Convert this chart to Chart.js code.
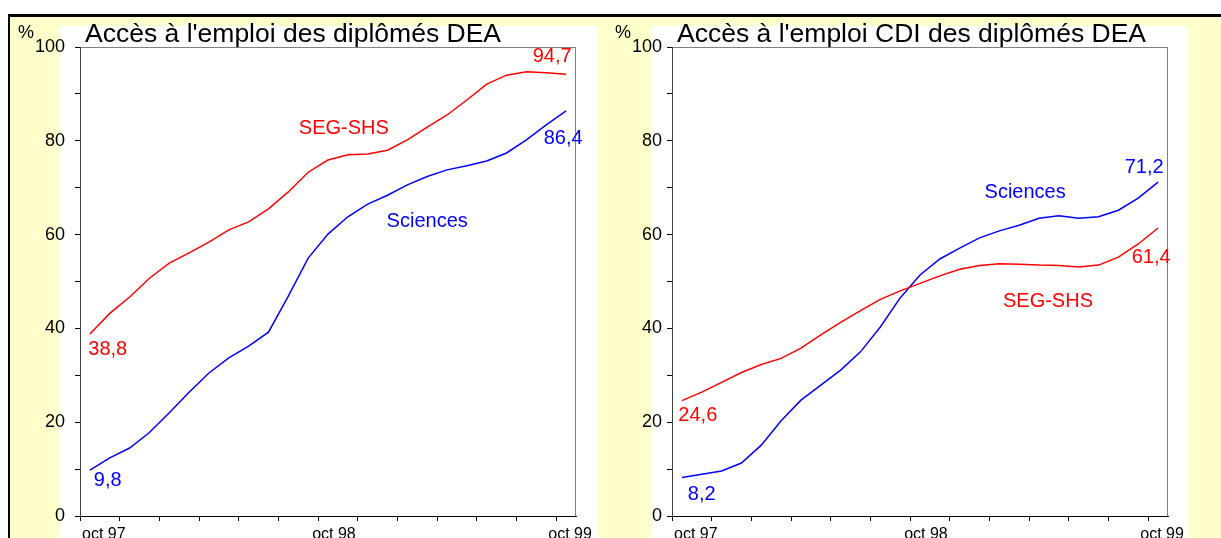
<!DOCTYPE html>
<html>
<head>
<meta charset="utf-8">
<script src="https://cdn.jsdelivr.net/npm/chart.js@4.4.0/dist/chart.umd.min.js"></script>
<style>
  body { margin: 0; background: #fff; width: 1221px; height: 538px; overflow: hidden; position: relative; }
  #frame { position: absolute; left: 8px; top: 14px; width: 1211px; height: 521px; background: #ffffcc; border-top: 3px solid #000; border-left: 2px solid #000; }
  .panel { position: absolute; top: 26px; height: 512px; background: #fff; }
  canvas { position: absolute; top: 0; }
</style>
</head>
<body>
<div id="frame"></div>
<div class="panel" style="left:60px; width:537px;"></div>
<div class="panel" style="left:652px; width:536px;"></div>
<canvas id="chart-emploi" width="600" height="538" style="left:0"></canvas>
<canvas id="chart-cdi" width="621" height="538" style="left:600px"></canvas>
<script>
// month index, 0 = oct 97 ... 24 = oct 99
const months = [0, 1, 2, 3, 4, 5, 6, 7, 8, 9, 10, 11, 12, 13, 14, 15, 16, 17, 18, 19, 20, 21, 22, 23, 24];

const xTickLabels = ["oct 97", "oct 98", "oct 99"];
const xTickLabelPos = [0.7, 12.3, 24.2];

// Accès à l'emploi (%)
const emploiSEG = [38.8, 43.2, 46.7, 50.7, 53.9, 56.1, 58.4, 61.0, 62.7, 65.5, 69.1, 73.3, 75.9,
                   77.0, 77.2, 78.0, 80.2, 82.9, 85.5, 88.7, 92.1, 94.0, 94.7, 94.5, 94.2];
const emploiSciences = [9.8, 12.4, 14.5, 17.8, 22.0, 26.4, 30.5, 33.7, 36.2, 39.2, 46.9, 55.0, 60.1,
                        63.8, 66.5, 68.4, 70.6, 72.4, 73.8, 74.7, 75.7, 77.4, 80.2, 83.4, 86.4];

// Accès à l'emploi CDI (%)
const cdiSEG = [24.6, 26.4, 28.5, 30.6, 32.3, 33.6, 35.8, 38.6, 41.3, 43.8, 46.2, 48.0, 49.6,
                51.2, 52.6, 53.4, 53.8, 53.7, 53.5, 53.4, 53.1, 53.5, 55.2, 58.0, 61.4];
const cdiSciences = [8.2, 8.9, 9.6, 11.3, 15.1, 20.3, 24.7, 27.9, 31.1, 35.0, 40.3, 46.5, 51.4,
                     54.8, 57.1, 59.3, 60.8, 62.0, 63.5, 64.0, 63.5, 63.8, 65.2, 67.8, 71.2];

const RED = "#ff0000";
const BLUE = "#0000ff";
const FONT = "'Liberation Sans', Arial, sans-serif";

// text written inside the plot: [text, x (month), y (%), colour]
const emploiNotes = [
    ["SEG-SHS", 12.8, 82.7, RED],
    ["Sciences", 17.0, 62.9, BLUE],
    ["38,8", 0.9, 35.6, RED],
    ["9,8", 0.9, 7.5, BLUE],
    ["94,7", 23.3, 97.9, RED],
    ["86,4", 23.85, 80.4, BLUE]
];
const cdiNotes = [
    ["Sciences", 17.3, 68.9, BLUE],
    ["71,2", 23.3, 74.4, BLUE],
    ["SEG-SHS", 18.45, 45.8, RED],
    ["61,4", 23.65, 55.2, RED],
    ["24,6", 0.8, 21.5, RED],
    ["8,2", 1.0, 4.5, BLUE]
];

const panelDecor = {
    id: "panelDecor",
    beforeDraw(chart, args, opts){
        /* grey frame round the plot area (axes are drawn over the left and bottom sides) */
        const {ctx, chartArea: a} = chart;
        ctx.save();
        ctx.strokeStyle = "#808080";
        ctx.lineWidth = 1;
        ctx.strokeRect(a.left + 0.5, a.top + 0.5, a.right - a.left - 1, a.bottom - a.top);
        ctx.restore();
    },
    afterDatasetsDraw(chart, args, opts){
        const {ctx, chartArea: a} = chart;
        const xs = chart.scales.x, ys = chart.scales.y;
        ctx.save();
        ctx.font = "20px " + FONT;
        ctx.textAlign = "center";
        ctx.textBaseline = "middle";
        for(const [text, x, y, color] of opts.notes){
            ctx.fillStyle = color;
            ctx.fillText(text, xs.getPixelForValue(x), ys.getPixelForValue(y));
        }

        // title and unit
        ctx.fillStyle = "#000";
        ctx.textAlign = "left";
        ctx.textBaseline = "alphabetic";
        ctx.font = "26.5px " + FONT;
        ctx.fillText(opts.title, a.left + 5, a.top - 5);
        ctx.font = "18px " + FONT;
        ctx.fillText("%", a.left + opts.percentX, a.top - 9);
        ctx.restore();
    }
};

function drawPanel(canvasId, title, seg, sciences, notes, yWidth, rightPad, labelPad, percentX){
    const ctx = document.getElementById(canvasId).getContext("2d");

    new Chart(ctx, {
        type: "line",
        data: {
            datasets: [{
                label: "SEG-SHS",
                data: months.map((m, i) => ({x: m, y: seg[i]})),
                borderColor: RED,
                borderWidth: 1.5,
                pointRadius: 0,
                tension: 0
            },
            {
                label: "Sciences",
                data: months.map((m, i) => ({x: m, y: sciences[i]})),
                borderColor: BLUE,
                borderWidth: 1.5,
                pointRadius: 0,
                tension: 0
            }]
        },
        options: {
            responsive: false,
            animation: false,
            layout: { padding: { left: 0, top: 47, right: rightPad, bottom: 0 } },
            plugins: {
                legend: { display: false },
                tooltip: { enabled: false },
                panelDecor: { notes: notes, title: title, percentX: percentX }
            },
            scales: {
                x: {
                    type: "linear",
                    min: -0.5,
                    max: 24.5,
                    afterFit: (scale) => { scale.height = 22; },
                    afterBuildTicks: (scale) => {
                        // a tick mark every two months, labels on their own positions
                        const ticks = [];
                        for(let v = -0.5; v < 24; v += 2) ticks.push({value: v});
                        xTickLabelPos.forEach(v => ticks.push({value: v}));
                        ticks.sort((p, q) => p.value - q.value);
                        scale.ticks = ticks;
                    },
                    border: { display: true, color: "#000", width: 1 },
                    grid: {
                        drawOnChartArea: false,
                        drawTicks: true,
                        tickLength: 5,
                        tickWidth: 1,
                        tickColor: (c) => xTickLabelPos.includes(c.tick && c.tick.value) ? "rgba(0,0,0,0)" : "#000"
                    },
                    ticks: {
                        autoSkip: false,
                        maxRotation: 0,
                        padding: 4,
                        color: "#000",
                        font: { family: FONT, size: 16 },
                        callback: (v) => {
                            const k = xTickLabelPos.indexOf(v);
                            return k >= 0 ? xTickLabels[k] : "";
                        }
                    }
                },
                y: {
                    min: 0,
                    max: 100,
                    afterFit: (scale) => { scale.width = yWidth; },
                    border: { display: true, color: "#404040", width: 1 },
                    grid: {
                        drawOnChartArea: false,
                        drawTicks: true,
                        tickLength: 5,
                        tickColor: "#000"
                    },
                    ticks: {
                        stepSize: 10,
                        autoSkip: false,
                        padding: labelPad,
                        color: "#000",
                        font: { family: FONT, size: 18 },
                        callback: (v) => v % 20 === 0 ? v : ""
                    }
                }
            }
        },
        plugins: [panelDecor]
    });
}

drawPanel("chart-emploi", "Accès à l'emploi des diplômés DEA", emploiSEG, emploiSciences, emploiNotes, 80, 24, 10, -62);
drawPanel("chart-cdi", "Accès à l'emploi CDI des diplômés DEA", cdiSEG, cdiSciences, cdiNotes, 72, 53, 5, -57);
</script>
</body>
</html>
